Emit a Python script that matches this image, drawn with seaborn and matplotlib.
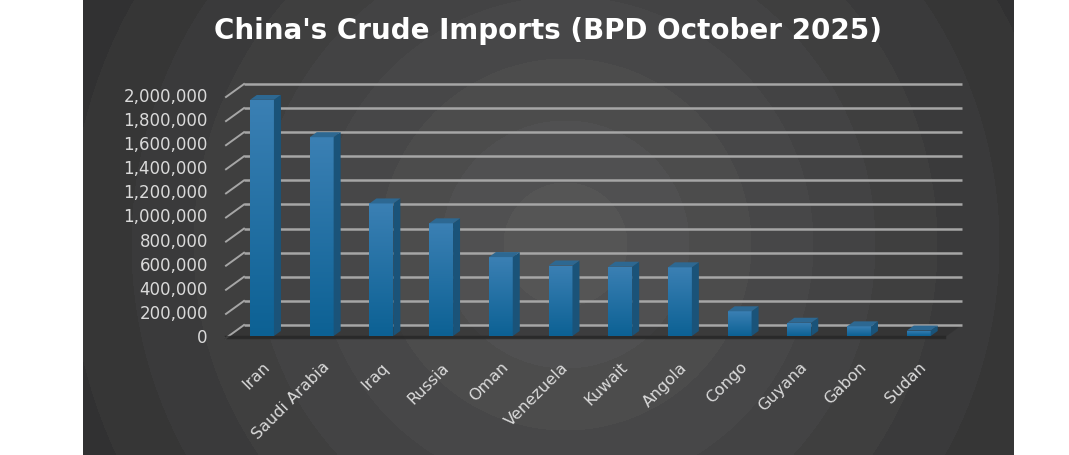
import numpy as np
import pandas as pd
import matplotlib
matplotlib.use("Agg")
import matplotlib.pyplot as plt
import seaborn as sns
from matplotlib.colors import LinearSegmentedColormap
from matplotlib.patches import Polygon
from matplotlib.ticker import FuncFormatter

countries = ["Iran", "Saudi Arabia", "Iraq", "Russia", "Oman", "Venezuela",
             "Kuwait", "Angola", "Congo", "Guyana", "Gabon", "Sudan"]
bpd = [1960000, 1650000, 1100000, 935000, 655000, 585000,
       575000, 570000, 205000, 110000, 80000, 45000]
y_ticks = list(range(0, 2000001, 200000))

df = pd.DataFrame({"country": countries, "bpd": bpd})

W, H = 1069, 455
fig = plt.figure(figsize=(W / 100, H / 100), dpi=100)
fig.patch.set_facecolor("white")

# dark panel with soft rings (pixel coords, origin bottom-left)
bg = fig.add_axes([0, 0, 1, 1], zorder=0)
bg.set_xlim(0, W)
bg.set_ylim(0, H)
bg.axis("off")
xx, yy = np.meshgrid(np.arange(83, 1014), np.arange(H))
r = np.hypot(xx - 565, yy - 210)
level = np.minimum(np.floor(r / 62), 9)
shade = (0x55 - level * 4.4) / 255
img = np.dstack([shade, shade, shade * 1.01])
bg.imshow(np.clip(img, 0, 1), extent=(83, 1014, 0, H), origin="lower", aspect="auto")

ax = fig.add_axes([230 / W, (H - 336) / H, 718 / W, 241 / H], zorder=1)
ax.patch.set_alpha(0)
sns.barplot(data=df, x="country", y="bpd", color="#1f6f9f", width=0.40,
            saturation=1, ax=ax)
ax.set_xlim(-0.536, 11.49)
ax.set_ylim(0, 2000000)
ax.set_yticks(y_ticks)
ax.yaxis.set_major_formatter(FuncFormatter(lambda v, p: f"{int(v):,}"))
ax.set_xlabel("")
ax.set_ylabel("")
for s in ax.spines.values():
    s.set_visible(False)
ax.tick_params(axis="y", length=0, pad=16, labelsize=12, labelcolor="#dadada")
ax.tick_params(axis="x", length=0, pad=17, labelsize=11.5, labelcolor="#dadada")
for lab in ax.get_xticklabels():
    lab.set_rotation(45)
    lab.set_ha("right")
    lab.set_va("top")
    lab.set_rotation_mode("anchor")

# 3D wall, floor and gridlines
bdx, bdy = 14, 11   # bar plane -> back wall
fdx, fdy = -4, -2   # bar plane -> front edge
x_left = ax.transData.transform((ax.get_xlim()[0], 0))[0]
x_right = ax.transData.transform((ax.get_xlim()[1], 0))[0]
py0 = ax.transData.transform((0, 0))[1]
bg.add_patch(Polygon([(x_left + fdx, py0 + fdy), (x_left + bdx, py0 + bdy),
                      (x_right + bdx, py0 + bdy), (x_right + fdx, py0 + fdy)],
                     closed=True, color="#2c2c2c", alpha=0.5, lw=0))
for t in y_ticks:
    py = ax.transData.transform((0, t))[1]
    bg.plot([x_left + bdx, x_right + bdx], [py + bdy, py + bdy], color="#a6a6a6",
            lw=1.8, solid_capstyle="butt")
    bg.plot([x_left + fdx, x_left + bdx], [py + fdy, py + bdy], color="#a6a6a6", lw=1.4)
bg.plot([x_left + fdx, x_right + fdx], [py0 - 1, py0 - 1], color="#262626", lw=2.5, alpha=0.8)

# bar faces: gradient front, darker side, lighter top
ox, oy = ax.transData.transform((0, 0))
ux = ax.transData.transform((1, 0))[0] - ox
uy = ax.transData.transform((0, 1))[1] - oy
ddx, ddy = 7 / ux, 5 / uy
cmap = LinearSegmentedColormap.from_list("bar", ["#0c6194", "#3b80b4"])
grad = np.linspace(0, 1, 256).reshape(-1, 1)
for p in list(ax.patches):
    x0, w, h = p.get_x(), p.get_width(), p.get_height()
    im = ax.imshow(grad, extent=(x0, x0 + w, 0, h), origin="lower", cmap=cmap,
                   aspect="auto", zorder=3)
    im.set_clip_path(p)
    ax.add_patch(Polygon([(x0 + w, 0), (x0 + w + ddx, ddy), (x0 + w + ddx, h + ddy),
                          (x0 + w, h)], closed=True, color="#1a5379", zorder=3, lw=0))
    ax.add_patch(Polygon([(x0, h), (x0 + ddx, h + ddy), (x0 + w + ddx, h + ddy),
                          (x0 + w, h)], closed=True, color="#2d6892", zorder=3, lw=0))
ax.set_xlim(-0.536, 11.49)
ax.set_ylim(0, 2000000)

fig.text(548 / W, (H - 31) / H, "China's Crude Imports (BPD October 2025)",
         ha="center", va="center", color="white", fontsize=20, fontweight="bold")

fig.savefig("out.png", dpi=100)
